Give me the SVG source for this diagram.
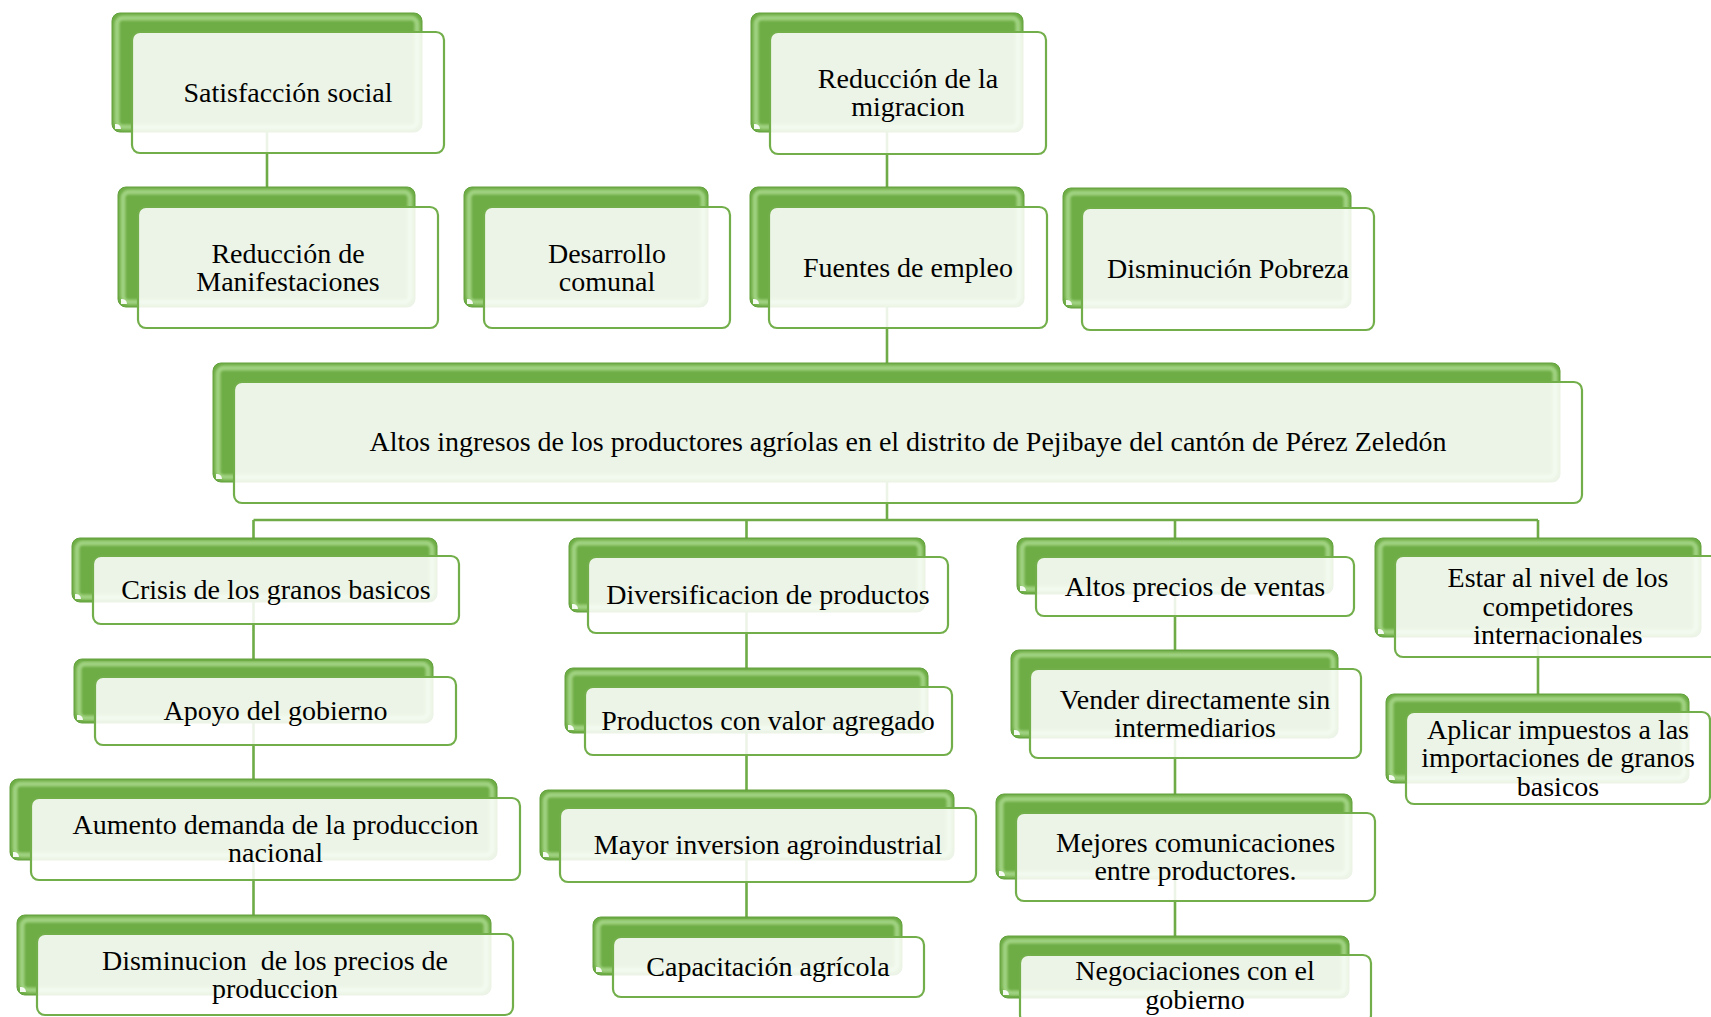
<svg xmlns="http://www.w3.org/2000/svg" width="1711" height="1017" viewBox="0 0 1711 1017">
<defs>
<filter id="soft" x="-5%" y="-5%" width="110%" height="110%"><feGaussianBlur stdDeviation="1.3"/></filter>
</defs>
<style>
.back{fill:#6EAD46;stroke:#62A03C;stroke-width:1;}
.gl{fill:none;stroke:#A8D889;stroke-width:5;stroke-opacity:.85;filter:url(#soft);}
.nt{fill:#fff;fill-opacity:.92;}
.front{fill:#fff;fill-opacity:.87;stroke:#72AE4A;stroke-width:2.2;}
.t{font-family:"Liberation Serif","Times New Roman",serif;font-size:28px;fill:#000;text-anchor:middle;}
.c{stroke:#6FAC47;stroke-width:2.6;fill:none;}
</style>
<rect width="1711" height="1017" fill="#fff"/>
<g id="connectors">
<path class="c" d="M267 92V267"/>
<path class="c" d="M887 92V442"/>
<path class="c" d="M887 442V520M253.5 520H1538M253.5 520V975M746.5 520V967M1175 520V987M1538 520V758"/>
</g>
<g id="n1"><rect class="back" x="112" y="13" width="310" height="119" rx="8"/><rect class="gl" x="117" y="18" width="300" height="109" rx="6"/><path class="nt" d="M115 129v-5a5 5 0 0 1 6 5z"/><rect class="front" x="132" y="32" width="312" height="121" rx="8"/><text class="t" x="288" y="101.7">Satisfacción social</text></g>
<g id="n2"><rect class="back" x="118" y="187" width="297" height="120" rx="8"/><rect class="gl" x="123" y="192" width="287" height="110" rx="6"/><path class="nt" d="M121 304v-5a5 5 0 0 1 6 5z"/><rect class="front" x="138" y="207" width="300" height="121" rx="8"/><text class="t"><tspan x="288" y="262.5">Reducción de</tspan><tspan x="288" y="290.8">Manifestaciones</tspan></text></g>
<g id="n3"><rect class="back" x="464" y="187" width="244" height="120" rx="8"/><rect class="gl" x="469" y="192" width="234" height="110" rx="6"/><path class="nt" d="M467 304v-5a5 5 0 0 1 6 5z"/><rect class="front" x="484" y="207" width="246" height="121" rx="8"/><text class="t"><tspan x="607" y="262.5">Desarrollo</tspan><tspan x="607" y="290.8">comunal</tspan></text></g>
<g id="n4"><rect class="back" x="751" y="13" width="272" height="119" rx="8"/><rect class="gl" x="756" y="18" width="262" height="109" rx="6"/><path class="nt" d="M754 129v-5a5 5 0 0 1 6 5z"/><rect class="front" x="770" y="32" width="276" height="122" rx="8"/><text class="t"><tspan x="908" y="88">Reducción de la</tspan><tspan x="908" y="116.3">migracion</tspan></text></g>
<g id="n5"><rect class="back" x="750" y="187" width="274" height="120" rx="8"/><rect class="gl" x="755" y="192" width="264" height="110" rx="6"/><path class="nt" d="M753 304v-5a5 5 0 0 1 6 5z"/><rect class="front" x="769" y="207" width="278" height="121" rx="8"/><text class="t" x="908" y="276.7">Fuentes de empleo</text></g>
<g id="n6"><rect class="back" x="1063" y="188" width="288" height="120" rx="8"/><rect class="gl" x="1068" y="193" width="278" height="110" rx="6"/><path class="nt" d="M1066 305v-5a5 5 0 0 1 6 5z"/><rect class="front" x="1082" y="208" width="292" height="122" rx="8"/><text class="t" x="1228" y="277.8">Disminución Pobreza</text></g>
<g id="n7"><rect class="back" x="213" y="363" width="1347" height="119" rx="8"/><rect class="gl" x="218" y="368" width="1337" height="109" rx="6"/><path class="nt" d="M216 479v-5a5 5 0 0 1 6 5z"/><rect class="front" x="234" y="382" width="1348" height="121" rx="8"/><text class="t" x="908" y="450.5">Altos ingresos de los productores agríolas en el distrito de Pejibaye del cantón de Pérez Zeledón</text></g>
<g id="n8"><rect class="back" x="72" y="538" width="365" height="64" rx="8"/><rect class="gl" x="77" y="543" width="355" height="54" rx="6"/><path class="nt" d="M75 599v-5a5 5 0 0 1 6 5z"/><rect class="front" x="93" y="556" width="366" height="68" rx="8"/><text class="t" x="276" y="599.2">Crisis de los granos basicos</text></g>
<g id="n9"><rect class="back" x="74" y="659" width="359" height="64" rx="8"/><rect class="gl" x="79" y="664" width="349" height="54" rx="6"/><path class="nt" d="M77 720v-5a5 5 0 0 1 6 5z"/><rect class="front" x="95" y="677" width="361" height="68" rx="8"/><text class="t" x="275.5" y="719.8">Apoyo del gobierno</text></g>
<g id="n10"><rect class="back" x="10" y="779" width="487" height="81" rx="8"/><rect class="gl" x="15" y="784" width="477" height="71" rx="6"/><path class="nt" d="M13 857v-5a5 5 0 0 1 6 5z"/><rect class="front" x="31" y="798" width="489" height="82" rx="8"/><text class="t"><tspan x="275.5" y="834">Aumento demanda de la produccion</tspan><tspan x="275.5" y="862.3">nacional</tspan></text></g>
<g id="n11"><rect class="back" x="17" y="915" width="474" height="80" rx="8"/><rect class="gl" x="22" y="920" width="464" height="70" rx="6"/><path class="nt" d="M20 992v-5a5 5 0 0 1 6 5z"/><rect class="front" x="37" y="934" width="476" height="81" rx="8"/><text class="t" xml:space="preserve"><tspan x="275" y="969.6">Disminucion  de los precios de</tspan><tspan x="275" y="997.9">produccion</tspan></text></g>
<g id="n12"><rect class="back" x="569" y="538" width="356" height="74" rx="8"/><rect class="gl" x="574" y="543" width="346" height="64" rx="6"/><path class="nt" d="M572 609v-5a5 5 0 0 1 6 5z"/><rect class="front" x="588" y="557" width="360" height="76" rx="8"/><text class="t" x="768" y="604.2">Diversificacion de productos</text></g>
<g id="n13"><rect class="back" x="565" y="668" width="363" height="65" rx="8"/><rect class="gl" x="570" y="673" width="353" height="55" rx="6"/><path class="nt" d="M568 730v-5a5 5 0 0 1 6 5z"/><rect class="front" x="585" y="687" width="367" height="68" rx="8"/><text class="t" x="768" y="730">Productos con valor agregado</text></g>
<g id="n14"><rect class="back" x="540" y="790" width="414" height="70" rx="8"/><rect class="gl" x="545" y="795" width="404" height="60" rx="6"/><path class="nt" d="M543 857v-5a5 5 0 0 1 6 5z"/><rect class="front" x="560" y="808" width="416" height="74" rx="8"/><text class="t" x="768" y="854">Mayor inversion agroindustrial</text></g>
<g id="n15"><rect class="back" x="593" y="917" width="309" height="58" rx="8"/><rect class="gl" x="598" y="922" width="299" height="48" rx="6"/><path class="nt" d="M596 972v-5a5 5 0 0 1 6 5z"/><rect class="front" x="613" y="937" width="311" height="60" rx="8"/><text class="t" x="768" y="975.5">Capacitación agrícola</text></g>
<g id="n16"><rect class="back" x="1017" y="538" width="316" height="56" rx="8"/><rect class="gl" x="1022" y="543" width="306" height="46" rx="6"/><path class="nt" d="M1020 591v-5a5 5 0 0 1 6 5z"/><rect class="front" x="1036" y="557" width="318" height="59" rx="8"/><text class="t" x="1195" y="595.5">Altos precios de ventas</text></g>
<g id="n17"><rect class="back" x="1011" y="650" width="327" height="88" rx="8"/><rect class="gl" x="1016" y="655" width="317" height="78" rx="6"/><path class="nt" d="M1014 735v-5a5 5 0 0 1 6 5z"/><rect class="front" x="1030" y="669" width="331" height="89" rx="8"/><text class="t"><tspan x="1195" y="708.6">Vender directamente sin</tspan><tspan x="1195" y="736.9">intermediarios</tspan></text></g>
<g id="n18"><rect class="back" x="996" y="794" width="356" height="85" rx="8"/><rect class="gl" x="1001" y="799" width="346" height="75" rx="6"/><path class="nt" d="M999 876v-5a5 5 0 0 1 6 5z"/><rect class="front" x="1016" y="813" width="359" height="88" rx="8"/><text class="t"><tspan x="1195.5" y="851.8">Mejores comunicaciones</tspan><tspan x="1195.5" y="880">entre productores.</tspan></text></g>
<g id="n19"><rect class="back" x="1000" y="936" width="349" height="62" rx="8"/><rect class="gl" x="1005" y="941" width="339" height="52" rx="6"/><path class="nt" d="M1003 995v-5a5 5 0 0 1 6 5z"/><rect class="front" x="1020" y="955" width="351" height="68" rx="8"/><text class="t"><tspan x="1195" y="980.2">Negociaciones con el</tspan><tspan x="1195" y="1008.5">gobierno</tspan></text></g>
<g id="n20"><rect class="back" x="1375" y="538" width="326" height="99" rx="8"/><rect class="gl" x="1380" y="543" width="316" height="89" rx="6"/><path class="nt" d="M1378 634v-5a5 5 0 0 1 6 5z"/><rect class="front" x="1395" y="556" width="327" height="101" rx="8"/><text class="t"><tspan x="1558" y="587.4">Estar al nivel de los</tspan><tspan x="1558" y="615.7">competidores</tspan><tspan x="1558" y="644">internacionales</tspan></text></g>
<g id="n21"><rect class="back" x="1386" y="694" width="303" height="89" rx="8"/><rect class="gl" x="1391" y="699" width="293" height="79" rx="6"/><path class="nt" d="M1389 780v-5a5 5 0 0 1 6 5z"/><rect class="front" x="1406" y="712" width="304" height="92" rx="8"/><text class="t"><tspan x="1558" y="739">Aplicar impuestos a las</tspan><tspan x="1558" y="767.3">importaciones de granos</tspan><tspan x="1558" y="795.6">basicos</tspan></text></g>
</svg>
